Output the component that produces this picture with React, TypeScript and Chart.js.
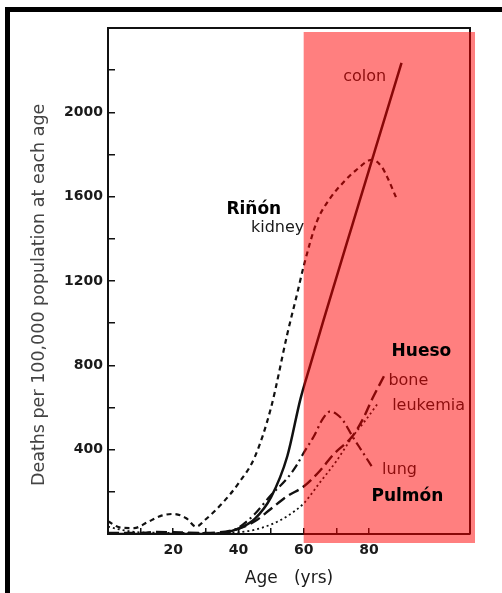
import { useEffect, useRef } from 'react';
import { Chart, registerables } from 'chart.js';

Chart.register(...registerables);

// ---- data (age in years, deaths per 100,000) ----
const colonAge = [0, 30, 35, 40, 45, 50, 55, 59, 62, 66, 70, 75, 80, 85, 90];
const colonRate = [0, 0, 4, 25, 72, 175, 370, 640, 800, 1010, 1215, 1470, 1725, 1980, 2235];

const kidneyAge = [0, 4, 8, 12, 16, 20, 24, 27, 30, 35, 40, 45, 50, 55, 58, 60, 64, 68, 72, 76, 81, 84, 86, 88.5];
const kidneyRate = [60, 30, 28, 55, 85, 95, 75, 35, 70, 145, 240, 365, 600, 950, 1140, 1270, 1480, 1590, 1665, 1725, 1775, 1740, 1680, 1590];

const boneAge = [0, 10, 15, 20, 30, 40, 45, 50, 55, 60, 65, 69, 75, 78, 81, 85];
const boneRate = [5, 5, 10, 8, 5, 25, 60, 120, 180, 225, 300, 375, 465, 540, 640, 760];

const leukemiaAge = [0, 4, 8, 15, 25, 35, 40, 45, 50, 55, 60, 65, 70, 75, 79, 83];
const leukemiaRate = [35, 20, 10, 6, 5, 5, 8, 20, 45, 85, 145, 245, 345, 462, 540, 625];

const lungAge = [0, 30, 35, 40, 45, 50, 55, 58, 60, 63, 66, 68, 70, 72, 75, 78, 81];
const lungRate = [0, 0, 3, 30, 95, 185, 265, 330, 385, 460, 550, 580, 570, 540, 462, 390, 318];

const xTickValues = [0, 10, 20, 30, 40, 50, 60, 70, 80];
const xLabeledTicks = [20, 40, 60, 80];
const yLabeledTicks = [400, 800, 1200, 1600, 2000];

const seriesNames = ['colon', 'kidney', 'bone', 'leukemia', 'lung'];
const spanishNames = ['Riñón', 'Hueso', 'Pulmón'];

const highlightFromAge = 60;

// label anchors in data coordinates [age, rate]
const englishAnchors: [number, number][] = [
  [78.7, 2168],
  [52.0, 1452],
  [92.1, 726],
  [98.3, 607],
  [89.4, 304],
];
const spanishAnchors: [number, number][] = [
  [44.7, 1537],
  [96.1, 863],
  [91.8, 176],
];

const FONT = "'DejaVu Sans', sans-serif";
const INK = '#111';

function pts(xs: number[], ys: number[]) {
  return xs.map((x, i) => ({ x, y: ys[i] }));
}

const overlayPlugin = {
  id: 'overlay',
  beforeDatasetsDraw(chart: any) {
    const { ctx, chartArea } = chart;
    const { left, top, right, bottom } = chartArea;
    ctx.save();
    ctx.strokeStyle = INK;
    ctx.lineWidth = 2;
    ctx.beginPath();
    ctx.moveTo(left, top);
    ctx.lineTo(right, top);
    ctx.lineTo(right, bottom);
    ctx.stroke();
    ctx.restore();
  },
  afterDatasetsDraw(chart: any) {
    const { ctx, chartArea } = chart;
    const xs = chart.scales.x;
    const ys = chart.scales.y;
    ctx.save();
    ctx.textAlign = 'center';
    ctx.textBaseline = 'middle';
    // English series labels (under the highlight)
    ctx.fillStyle = '#1a1a1a';
    ctx.font = `16px ${FONT}`;
    seriesNames.forEach((name, i) => {
      const [a, r] = englishAnchors[i];
      ctx.fillText(name, xs.getPixelForValue(a), ys.getPixelForValue(r));
    });
    // highlight box
    const bx = xs.getPixelForValue(highlightFromAge);
    ctx.fillStyle = 'rgba(255,0,0,0.5)';
    ctx.fillRect(bx, chartArea.top + 4, chartArea.right + 5 - bx, chartArea.bottom + 9 - (chartArea.top + 4));
    // Spanish labels on top
    ctx.fillStyle = '#000';
    ctx.font = `bold 17px ${FONT}`;
    spanishNames.forEach((name, i) => {
      const [a, r] = spanishAnchors[i];
      ctx.fillText(name, xs.getPixelForValue(a), ys.getPixelForValue(r));
    });
    ctx.restore();
  },
};

export default function App() {
  const ref = useRef<HTMLCanvasElement | null>(null);
  useEffect(() => {
    if (!ref.current) return;
    const common = { pointRadius: 0, borderColor: INK, fill: false, cubicInterpolationMode: 'monotone' as const };
    const chart = new Chart(ref.current, {
      type: 'line',
      data: {
        datasets: [
          { label: seriesNames[0], data: pts(colonAge, colonRate), borderWidth: 2.5, ...common },
          { label: seriesNames[1], data: pts(kidneyAge, kidneyRate), borderWidth: 2.2, borderDash: [5, 4], ...common },
          { label: seriesNames[2], data: pts(boneAge, boneRate), borderWidth: 2.4, borderDash: [11, 5], ...common },
          { label: seriesNames[3], data: pts(leukemiaAge, leukemiaRate), borderWidth: 1.8, borderDash: [2, 3], ...common },
          { label: seriesNames[4], data: pts(lungAge, lungRate), borderWidth: 2.2, borderDash: [9, 4, 2, 4], ...common },
        ],
      },
      options: {
        animation: false,
        responsive: false,
        devicePixelRatio: 1,
        layout: { padding: { top: 28, right: 32, left: 0, bottom: 0 } },
        plugins: { legend: { display: false }, tooltip: { enabled: false } },
        scales: {
          x: {
            type: 'linear',
            min: 0,
            max: 111,
            afterBuildTicks: (s: any) => {
              s.ticks = xTickValues.map((v) => ({ value: v }));
            },
            afterFit: (s: any) => {
              s.height = 59;
            },
            ticks: {
              autoSkip: false,
              padding: 14,
              color: '#1a1a1a',
              font: { family: FONT, size: 14, weight: 'bold' },
              callback: (v: any) => (xLabeledTicks.includes(Number(v)) ? String(v) : ''),
            },
            grid: { display: true, drawOnChartArea: false, tickLength: -6, tickColor: INK, lineWidth: 1.5 },
            border: { display: true, color: INK, width: 2 },
            title: {
              display: true,
              text: 'Age   (yrs)',
              color: '#1a1a1a',
              font: { family: FONT, size: 17 },
              padding: { top: 0, bottom: 4 },
            },
          },
          y: {
            type: 'linear',
            min: 0,
            max: 2400,
            afterFit: (s: any) => {
              s.width = 108;
            },
            ticks: {
              stepSize: 200,
              autoSkip: false,
              padding: 12,
              color: '#1a1a1a',
              font: { family: FONT, size: 14, weight: 'bold' },
              callback: (v: any) => (yLabeledTicks.includes(Number(v)) ? String(v) : ''),
            },
            grid: { display: true, drawOnChartArea: false, tickLength: -7, tickColor: INK, lineWidth: 1.5 },
            border: { display: true, color: INK, width: 2 },
            title: {
              display: true,
              text: 'Deaths per 100,000 population at each age     ',
              color: '#444',
              font: { family: FONT, size: 17.5 },
              padding: { top: 29, bottom: 0 },
            },
          },
        },
      },
      plugins: [overlayPlugin],
    });
    return () => chart.destroy();
  }, []);

  return (
    <div style={{ position: 'fixed', left: 0, top: 0, width: 502, height: 593, background: '#fff' }}>
      <div style={{ position: 'absolute', left: 5, top: 7, width: 497, height: 5, background: '#000' }} />
      <div style={{ position: 'absolute', left: 5, top: 7, width: 5, height: 586, background: '#000' }} />
      <canvas ref={ref} width={502} height={593} style={{ position: 'absolute', left: 0, top: 0 }} />
    </div>
  );
}
